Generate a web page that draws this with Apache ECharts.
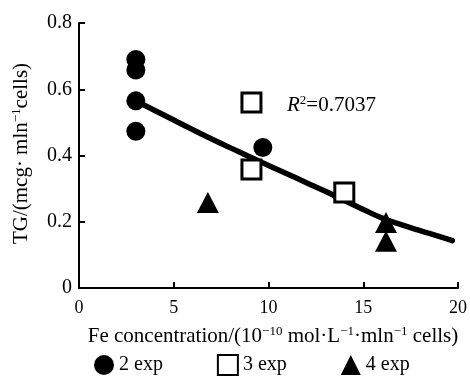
<!DOCTYPE html>
<html>
<head>
<meta charset="utf-8">
<script src="https://cdn.jsdelivr.net/npm/echarts@6/dist/echarts.min.js"></script>
<style>html,body{margin:0;padding:0;background:#fff;}#c{width:470px;height:382px;}</style>
</head>
<body>
<div id="c"></div>
<script>
const seriesNames = ['2 exp', '3 exp', '4 exp'];
const exp2X = [3, 3, 3, 3, 9.7];
const exp2Y = [0.69, 0.658, 0.565, 0.473, 0.424];
const exp3X = [9.1, 9.1, 14];
const exp3Y = [0.56, 0.358, 0.288];
const exp4X = [6.8, 16.2, 16.2];
const exp4Y = [0.258, 0.198, 0.141];
const fitX = [3, 4, 5, 6, 7, 8, 9, 10, 11, 12, 13, 14, 15, 16, 17, 18, 19, 19.7];
const fitY = [0.565, 0.536, 0.507, 0.478, 0.45, 0.423, 0.396, 0.37, 0.344, 0.318, 0.292, 0.264, 0.237, 0.211, 0.191, 0.173, 0.156, 0.143];
const xTicks = [0, 5, 10, 15, 20];
const yTicks = [0, 0.2, 0.4, 0.6, 0.8];
const r2Label = '0.7037';

const zip = (xs, ys) => xs.map((x, i) => [x, ys[i]]);
const FONT = '"Liberation Serif", "Times New Roman", serif';
const chart = echarts.init(document.getElementById('c'), null, {renderer: 'canvas'});
chart.setOption({
  animation: false,
  backgroundColor: '#fff',
  grid: {left: 79, right: 6, top: 23, bottom: 94, containLabel: false},
  xAxis: {
    type: 'value', min: xTicks[0], max: xTicks[xTicks.length - 1], interval: 5,
    axisLine: {lineStyle: {color: '#000', width: 2}},
    axisTick: {inside: true, length: 6, lineStyle: {color: '#000', width: 2}},
    splitLine: {show: false},
    axisLabel: {color: '#000', fontFamily: FONT, fontSize: 18, margin: 11},
    name: 'Fe concentration/(10{s|−10} mol·L{s|−1}·mln{s|−1} cells)',
    nameLocation: 'middle', nameGap: 37,
    nameTextStyle: {color: '#000', fontFamily: FONT, fontSize: 21, padding: [0, 0, 0, 9],
      rich: {s: {fontFamily: FONT, fontSize: 13, padding: [0, 0, 9, 0], color: '#000'}}}
  },
  yAxis: {
    type: 'value', min: yTicks[0], max: yTicks[yTicks.length - 1], interval: 0.2,
    axisLine: {lineStyle: {color: '#000', width: 2}},
    axisTick: {inside: true, length: 6, lineStyle: {color: '#000', width: 2}},
    splitLine: {show: false},
    axisLabel: {color: '#000', fontFamily: FONT, fontSize: 20, margin: 7,
      formatter: v => v === 0 ? '0' : v.toFixed(1)},
    name: 'TG/(mcg· mln{s|−1}cells)',
    nameLocation: 'middle', nameGap: 47, nameRotate: 90,
    nameTextStyle: {color: '#000', fontFamily: FONT, fontSize: 21, padding: [0, 0, 0, 4],
      rich: {s: {fontFamily: FONT, fontSize: 13, padding: [0, 0, 9, 0], color: '#000'}}}
  },
  legend: {
    data: seriesNames, left: 89, top: 349, itemGap: 54, itemWidth: 20, itemHeight: 20,
    textStyle: {color: '#000', fontFamily: FONT, fontSize: 20}
  },
  series: [
    {
      name: 'fit', type: 'line', data: zip(fitX, fitY), smooth: true, symbol: 'none',
      lineStyle: {color: '#000', width: 5.5, cap: 'round'}, z: 1, silent: true
    },
    {
      name: seriesNames[0], type: 'scatter', data: zip(exp2X, exp2Y), symbol: 'circle', symbolSize: 19,
      itemStyle: {color: '#000', opacity: 1}, z: 3
    },
    {
      name: seriesNames[1], type: 'scatter', data: zip(exp3X, exp3Y), symbol: 'rect', symbolSize: 19,
      itemStyle: {color: '#fff', borderColor: '#000', borderWidth: 3, opacity: 1}, z: 2
    },
    {
      name: seriesNames[2], type: 'scatter', data: zip(exp4X, exp4Y), symbol: 'triangle', symbolSize: [22, 21],
      itemStyle: {color: '#000', opacity: 1}, z: 3
    }
  ],
  graphic: [{
    type: 'text', left: 287, top: 94,
    style: {
      text: '{i|R}{s|2}{n|=' + r2Label + '}',
      rich: {
        i: {fontFamily: FONT, fontSize: 21, fontStyle: 'italic', fill: '#000'},
        s: {fontFamily: FONT, fontSize: 13, fill: '#000', padding: [0, 0, 9, 0]},
        n: {fontFamily: FONT, fontSize: 21, fill: '#000'}
      }
    }
  }]
});
</script>
</body>
</html>
